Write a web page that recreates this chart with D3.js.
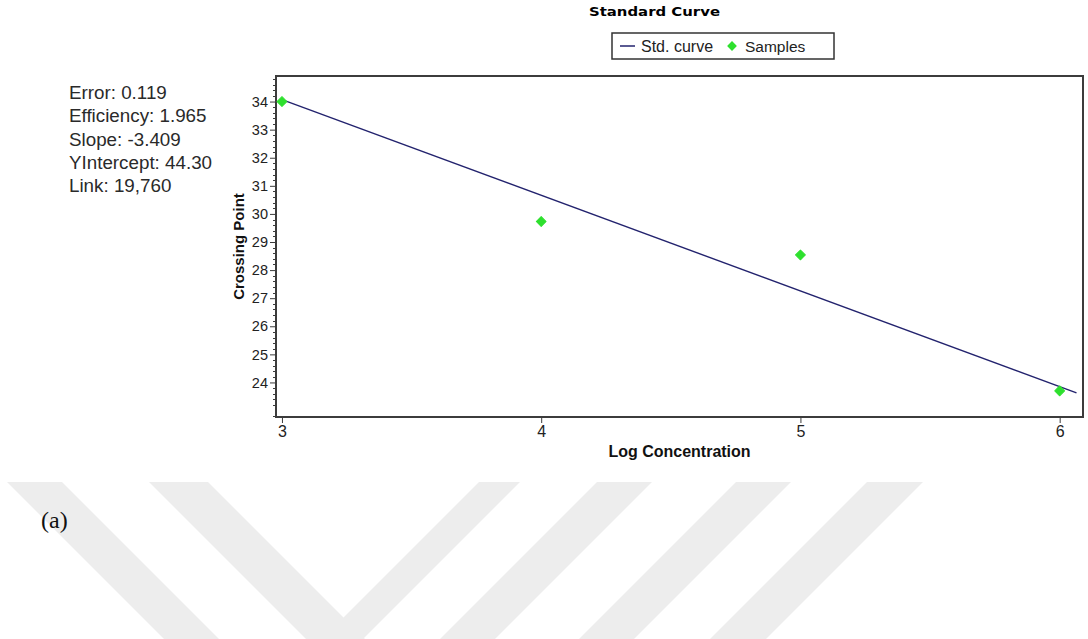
<!DOCTYPE html>
<html>
<head>
<meta charset="utf-8">
<script src="https://cdn.jsdelivr.net/npm/d3@7"></script>
<style>
  html, body { margin: 0; padding: 0; background: #fff; }
  svg { display: block; }
</style>
</head>
<body>
<div id="chart"></div>
<script>
// ---- chart data ----
const xTicks = [3, 4, 5, 6];
const yTicks = [24, 25, 26, 27, 28, 29, 30, 31, 32, 33, 34];

// green sample points: log concentration vs crossing point
const sampleLogConc = [3, 4, 5, 6];
const sampleCp = [34.0, 29.73, 28.54, 23.70];

// fitted standard curve, its two end points
const curveLogConc = [3, 6.065];
const curveCp = [34.07, 23.63];

const statLines = ["Error: 0.119", "Efficiency: 1.965", "Slope: -3.409", "YIntercept: 44.30", "Link: 19,760"];
const legendNames = ["Std. curve", "Samples"];

// ---- canvas ----
const width = 1088, height = 639;
const svg = d3.select("#chart").append("svg")
    .attr("width", width)
    .attr("height", height)
    .style("font-family", "'Liberation Sans', Arial, sans-serif");

// faint background watermark bands (page decoration, not data)
const bands = [
    { x0: 7,   x1: 62,  dir: 1 },
    { x0: 149, x1: 208, dir: 1 },
    { x0: 479, x1: 520, dir: -1 },
    { x0: 597, x1: 652, dir: -1 },
    { x0: 736, x1: 791, dir: -1 },
    { x0: 867, x1: 923, dir: -1 }
];
const bandTop = 482, bandBottom = 639;
svg.append("g").selectAll("path")
    .data(bands)
    .join("path")
    .attr("fill", "#ededed")
    .attr("d", d => {
        const dy = bandBottom - bandTop;
        return `M${d.x0},${bandTop}L${d.x1},${bandTop}L${d.x1 + d.dir * dy},${bandBottom}L${d.x0 + d.dir * dy},${bandBottom}Z`;
    });

// plot area
const plot = { left: 276, top: 76, right: 1083, bottom: 417 };

const x = d3.scaleLinear().domain([2.977, 6.09]).range([plot.left, plot.right]);
const y = d3.scaleLinear().domain([22.77, 34.91]).range([plot.bottom, plot.top]);

const axisColor = "#3c3c3c";

// y axis: major + minor ticks on the left of the frame
const minorY = d3.range(22.8, 34.9, 0.2).filter(v => Math.abs(v - Math.round(v)) > 0.01);
svg.append("g").selectAll("line")
    .data(minorY)
    .join("line")
    .attr("x1", plot.left - 3).attr("x2", plot.left)
    .attr("y1", d => Math.round(y(d)) + 0.5).attr("y2", d => Math.round(y(d)) + 0.5)
    .attr("stroke", axisColor).attr("stroke-width", 1);

const yAxis = svg.append("g")
    .attr("transform", `translate(${plot.left},0)`)
    .call(d3.axisLeft(y).tickValues(yTicks).tickSize(6).tickPadding(2).tickFormat(d3.format("d")));
yAxis.select(".domain").remove();
yAxis.selectAll(".tick line").attr("stroke", axisColor);
yAxis.selectAll(".tick text")
    .attr("fill", "#222")
    .style("font-size", "14.5px")
    .style("font-family", "'Liberation Sans', Arial, sans-serif");

// x axis
const xAxis = svg.append("g")
    .attr("transform", `translate(0,${plot.bottom})`)
    .call(d3.axisBottom(x).tickValues(xTicks).tickSize(6).tickPadding(3).tickFormat(d3.format("d")));
xAxis.select(".domain").remove();
xAxis.selectAll(".tick line").attr("stroke", axisColor);
xAxis.selectAll(".tick text")
    .attr("fill", "#222")
    .style("font-size", "16px")
    .style("font-family", "'Liberation Sans', Arial, sans-serif");

// frame
svg.append("rect")
    .attr("x", plot.left).attr("y", plot.top)
    .attr("width", plot.right - plot.left).attr("height", plot.bottom - plot.top)
    .attr("fill", "none")
    .attr("stroke", axisColor)
    .attr("stroke-width", 2);

// standard curve
const curve = curveLogConc.map((v, i) => [v, curveCp[i]]);
svg.append("path")
    .datum(curve)
    .attr("d", d3.line().x(d => x(d[0])).y(d => y(d[1])))
    .attr("fill", "none")
    .attr("stroke", "#23236e")
    .attr("stroke-width", 1.4);

// samples
const diamond = d3.symbol().type(d3.symbolSquare).size(48);
svg.append("g").selectAll("path")
    .data(sampleLogConc.map((v, i) => [v, sampleCp[i]]))
    .join("path")
    .attr("d", diamond)
    .attr("transform", d => `translate(${x(d[0])},${y(d[1])}) rotate(45)`)
    .attr("fill", "#2ee02e")
    .attr("stroke", "#2ee02e")
    .attr("stroke-width", 1)
    .attr("stroke-linejoin", "round");

// axis titles
svg.append("text")
    .attr("x", (plot.left + plot.right) / 2)
    .attr("y", 457)
    .attr("text-anchor", "middle")
    .style("font-size", "16px")
    .style("font-weight", "bold")
    .attr("fill", "#111")
    .text("Log Concentration");

svg.append("text")
    .attr("transform", `translate(244,${(plot.top + plot.bottom) / 2}) rotate(-90)`)
    .attr("text-anchor", "middle")
    .style("font-size", "15px")
    .style("font-weight", "bold")
    .attr("fill", "#111")
    .text("Crossing Point");

// chart title
svg.append("text")
    .attr("x", 589)
    .attr("y", 16)
    .attr("textLength", 131)
    .attr("lengthAdjust", "spacingAndGlyphs")
    .style("font-family", "'DejaVu Sans', Verdana, sans-serif")
    .style("font-size", "12.5px")
    .style("font-weight", "bold")
    .attr("fill", "#000")
    .text("Standard Curve");

// legend
const legend = svg.append("g");
legend.append("rect")
    .attr("x", 612).attr("y", 33)
    .attr("width", 222).attr("height", 26)
    .attr("fill", "#fff")
    .attr("stroke", "#333")
    .attr("stroke-width", 1.5);
legend.append("line")
    .attr("x1", 620).attr("x2", 635)
    .attr("y1", 46).attr("y2", 46)
    .attr("stroke", "#23236e").attr("stroke-width", 1.5);
legend.append("text")
    .attr("x", 641).attr("y", 51.5)
    .style("font-size", "16px")
    .attr("fill", "#222")
    .text(legendNames[0]);
legend.append("path")
    .attr("d", diamond)
    .attr("transform", "translate(732,46) rotate(45)")
    .attr("fill", "#2ee02e");
legend.append("text")
    .attr("x", 745).attr("y", 51.5)
    .style("font-size", "15.5px")
    .attr("fill", "#222")
    .text(legendNames[1]);

// fit statistics on the left
svg.append("g").selectAll("text")
    .data(statLines)
    .join("text")
    .attr("x", 69)
    .attr("y", (d, i) => 99 + i * 23.3)
    .style("font-size", "18.8px")
    .attr("fill", "#2a2a2a")
    .text(d => d);

// panel label
svg.append("text")
    .attr("x", 41)
    .attr("y", 528)
    .style("font-family", "'Liberation Serif', 'Times New Roman', serif")
    .style("font-size", "24px")
    .attr("fill", "#111")
    .text("(a)");
</script>
</body>
</html>
